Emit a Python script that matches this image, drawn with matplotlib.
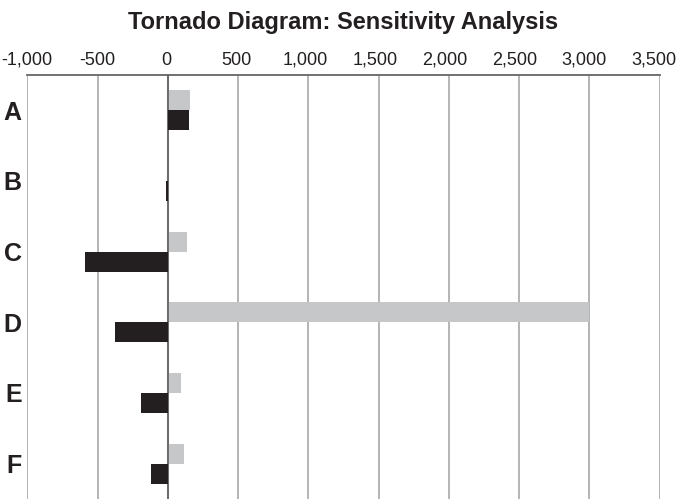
import matplotlib
matplotlib.use('Agg')
import matplotlib.pyplot as plt
import matplotlib.transforms as mtransforms
import numpy as np
from matplotlib.ticker import FuncFormatter

# data
categories = ['A', 'B', 'C', 'D', 'E', 'F']
upper_vals = [160, 0, 135, 3000, 95, 118]        # light grey bars
lower_vals = [150, -10, -590, -375, -188, -118]  # black bars
x_ticks = [-1000, -500, 0, 500, 1000, 1500, 2000, 2500, 3000, 3500]

plt.rcParams['font.family'] = ['Liberation Sans Narrow', 'Liberation Sans', 'DejaVu Sans']

fig = plt.figure(figsize=(6.77, 4.99), dpi=100)
ax = fig.add_axes([0.0403, 0.0, 0.934, 0.8497])

y = np.arange(len(categories))
h = 0.285
ax.barh(y - h / 2, upper_vals, height=h, color='#c6c7c8', zorder=3)
ax.barh(y + h / 2, lower_vals, height=h, color='#231f20', zorder=5)

ax.set_xlim(-1000, 3500)
ax.set_ylim(len(categories) - 0.5, -0.5)
ax.set_xticks(x_ticks)
ax.xaxis.set_major_formatter(FuncFormatter(lambda v, _: f'{int(v):,}'))
ax.xaxis.tick_top()
ax.tick_params(axis='x', length=0, pad=4.5, labelsize=13, colors='#231f20')
ax.set_yticks(y)
ax.set_yticklabels(categories, fontsize=18, fontweight='bold', color='#231f20')
ax.tick_params(axis='y', length=0, pad=4)

# the reference squeezes the right-most labels a little to the left
fig.canvas.draw()
labels = ax.get_xticklabels()
for i, lab in enumerate(labels):
    shift = -6 * i / (len(labels) - 1)
    lab.set_transform(lab.get_transform() +
                      mtransforms.ScaledTranslation(shift / 100, 0, fig.dpi_scale_trans))

ax.grid(axis='x', color='#a8a8a8', linewidth=1.2, zorder=0)
ax.axvline(0, color='#555555', linewidth=1.1, zorder=4)

for side in ['left', 'right', 'bottom']:
    ax.spines[side].set_visible(False)
ax.spines['top'].set_color('#666666')
ax.spines['top'].set_linewidth(1.3)

fig.suptitle('Tornado Diagram: Sensitivity Analysis', x=0.507, y=0.978,
             fontsize=17, fontweight='bold', color='#231f20')

fig.savefig('out.png', dpi=100)
